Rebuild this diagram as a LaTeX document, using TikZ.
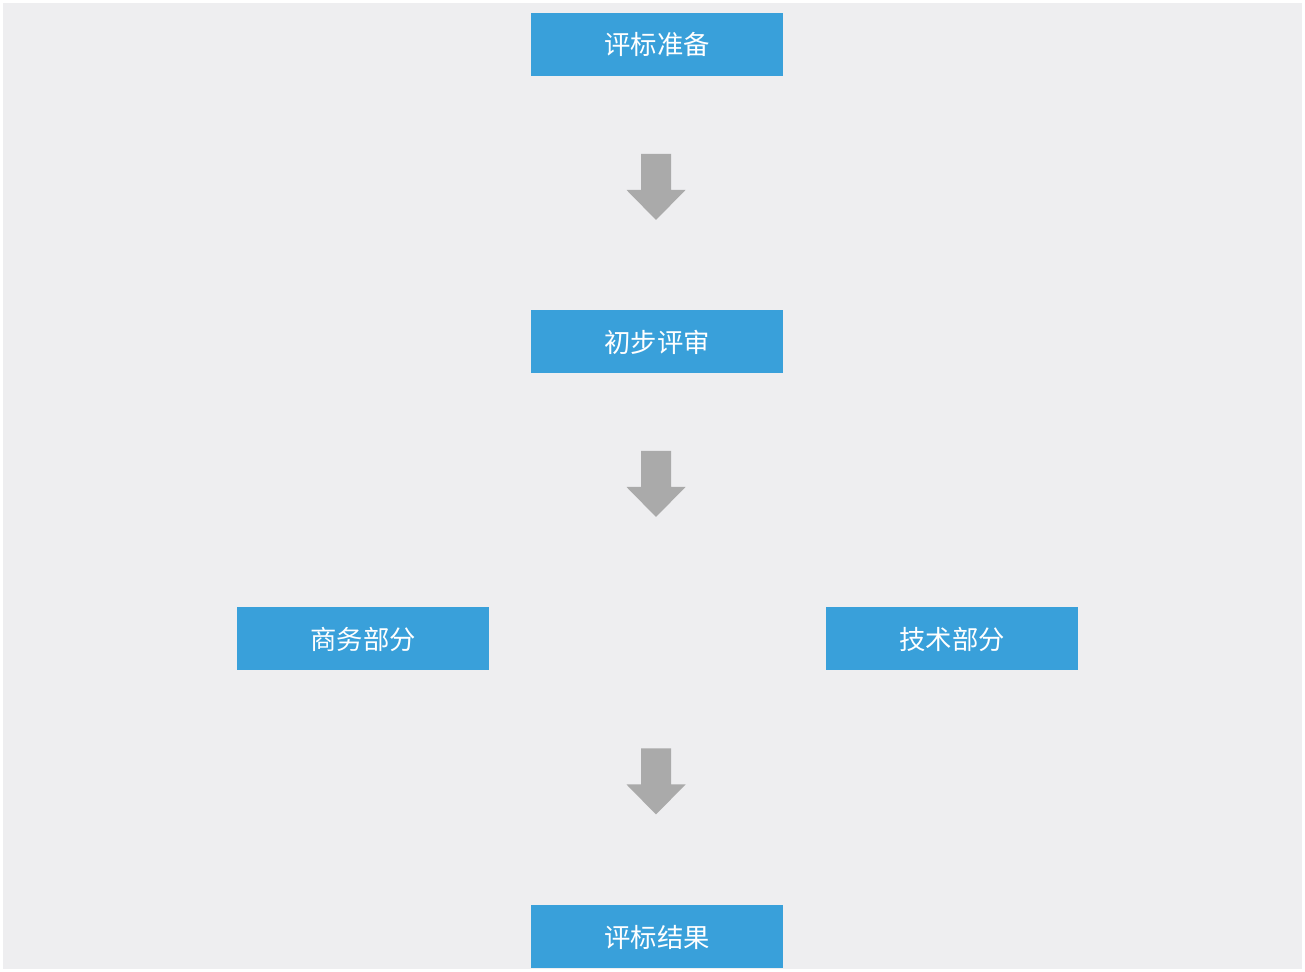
\documentclass[tikz,border=0pt]{standalone}
\usepackage{fontspec}
\newfontfamily\cjk{Noto Sans CJK SC}
\usetikzlibrary{shapes}

\definecolor{bgrey}{RGB}{238,238,240}
\definecolor{boxblue}{RGB}{57,160,218}
\definecolor{arrowgrey}{RGB}{170,170,170}

\begin{document}
\begin{tikzpicture}[scale=1, transform shape]

  % fondo
  \useasboundingbox (0,0) rectangle (26.1,19.44);
  \fill[bgrey] (0.06,0.06) rectangle (26.04,19.38);

  % cajas (azul)
  \begin{scope}[every node/.style={rectangle, fill=boxblue, minimum width=5.04cm, minimum height=1.26cm, inner sep=0pt, text=white, font=\cjk\fontsize{15}{18}\selectfont}]
    \node (prep) at (13.14,18.55) {评标准备};
    \node (prelim) at (13.14,12.6) {初步评审};
    \node (biz) at (7.26,6.66) {商务部分};
    \node (tech) at (19.04,6.66) {技术部分};
    \node (result) at (13.14,0.7) {评标结果};
  \end{scope}

  % flechas (gris)
  \foreach \y in {15.7, 9.76, 3.81} {
    \begin{scope}[shift={(13.12,\y)}]
      \fill[arrowgrey] (-0.3,0.66) -- (0.3,0.66) -- (0.3,-0.06) -- (0.59,-0.06)
        -- (0,-0.66) -- (-0.59,-0.06) -- (-0.3,-0.06) -- cycle;
    \end{scope}
  }

\end{tikzpicture}
\end{document}
